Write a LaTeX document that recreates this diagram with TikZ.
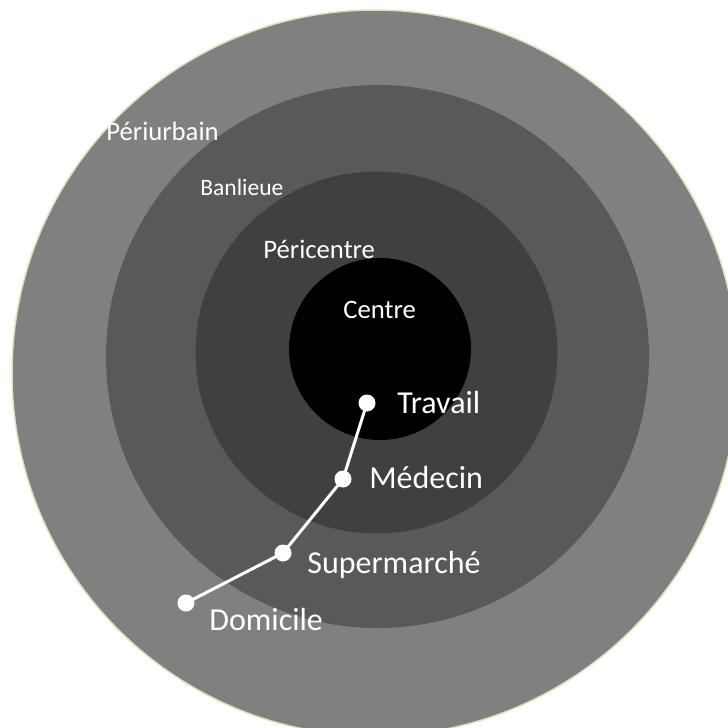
\documentclass[tikz,border=0pt]{standalone}
\usepackage{fontspec}
\setmainfont{Carlito}
\definecolor{periurbfill}{HTML}{808080}
\definecolor{periurbedge}{HTML}{D7E4BD}
\definecolor{banlfill}{HTML}{595959}
\definecolor{pericfill}{HTML}{404040}
\definecolor{centfill}{HTML}{000000}
\begin{document}
\begin{tikzpicture}[
  x=0.2mm, y=-0.2mm,
  zone/.style={text=white, anchor=base west, inner sep=0pt,
               font=\fontsize{15.2}{18}\selectfont},
  place/.style={text=white, anchor=base west, inner sep=0pt,
                font=\fontsize{18.2}{22}\selectfont},
  stop/.style={circle, fill=white, minimum size=3.4mm, inner sep=0pt},
  route/.style={draw=white, line width=0.6mm},
]
\clip (0,0) rectangle (728,728);
% concentric zones, outermost first
\fill[periurbfill, draw=periurbedge, line width=0.3mm] (375,373) circle [radius=363];
\fill[banlfill] (377.5,356.5) circle [radius=271.5];
\fill[pericfill] (376.5,352.5) circle [radius=181];
\fill[centfill] (380,349) circle [radius=91];
% zone names
\node[zone] (periurbain) at (106,140) {Périurbain};
\node[zone, font=\fontsize{13.4}{16}\selectfont] (banlieue) at (200,195) {Banlieue};
\node[zone] (pericentre) at (263,258) {Péricentre};
\node[zone] (centre) at (343,318) {Centre};
% trip stops
\node[stop] (travail) at (367,403) {};
\node[stop] (medecin) at (343,479) {};
\node[stop] (supermarche) at (283,553) {};
\node[stop] (domicile) at (186,603) {};
\draw[route] (domicile.center) -- (supermarche.center) -- (medecin.center) -- (travail.center);
\node[place] (travail_lab) at (397,413) {Travail};
\node[place] (medecin_lab) at (369,488) {Médecin};
\node[place] (supermarche_lab) at (307,573) {Supermarché};
\node[place] (domicile_lab) at (209,630) {Domicile};
\end{tikzpicture}
\end{document}
